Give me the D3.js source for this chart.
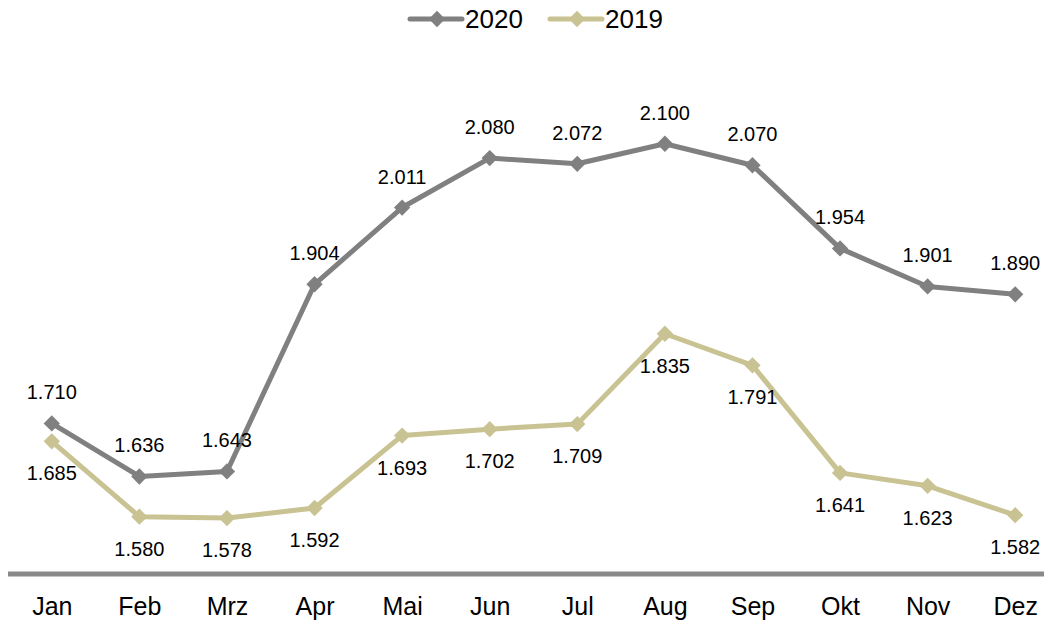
<!DOCTYPE html>
<html lang="de">
  <head>
    <meta charset="UTF-8" />
    <title>2020 vs 2019</title>
    <style>
      body { margin: 0; background: #fff; }
      text { font-family: "Liberation Sans", Arial, sans-serif; fill: #000; }
    </style>
  </head>
  <body>
    <div id="wrapper"></div>
    <script src="https://d3js.org/d3.v7.min.js"></script>
    <script>
      // Daten
      const months = ["Jan", "Feb", "Mrz", "Apr", "Mai", "Jun", "Jul", "Aug", "Sep", "Okt", "Nov", "Dez"];
      const values2020 = [1.710, 1.636, 1.643, 1.904, 2.011, 2.080, 2.072, 2.100, 2.070, 1.954, 1.901, 1.890];
      const values2019 = [1.685, 1.580, 1.578, 1.592, 1.693, 1.702, 1.709, 1.835, 1.791, 1.641, 1.623, 1.582];

      const width = 1044, height = 620;

      const series = [
        { name: "2020", values: values2020, color: "#808080", labelDy: -31 },
        { name: "2019", values: values2019, color: "#c9c393", labelDy: 32 }
      ];

      const svg = d3.select("#wrapper")
        .append("svg")
          .attr("width", width)
          .attr("height", height);

      const x = d3.scalePoint()
        .domain(months)
        .range([8, 1059])
        .padding(0.5);

      const y = d3.scaleLinear()
        .domain([1.5, 2.2])
        .range([574, 72]);

      const fmt = d3.format(".3f");
      const diamond = d3.symbol().type(d3.symbolDiamond2).size(170);

      // x-Achse
      const xAxis = svg.append("g")
        .attr("transform", "translate(0," + y(1.5) + ")")
        .call(d3.axisBottom(x).tickSize(0).tickPadding(23));
      xAxis.select(".domain").remove();
      xAxis.selectAll("text")
        .style("font-size", "25px")
        .attr("dy", "0.71em");
      svg.append("line")
        .attr("x1", 8).attr("x2", width)
        .attr("y1", y(1.5)).attr("y2", y(1.5))
        .attr("stroke", "#898989")
        .attr("stroke-width", 5);

      const line = d3.line()
        .x((d, i) => x(months[i]))
        .y(d => y(d));

      series.forEach(s => {
        svg.append("path")
          .datum(s.values)
          .attr("fill", "none")
          .attr("stroke", s.color)
          .attr("stroke-width", 5)
          .attr("stroke-linejoin", "round")
          .attr("d", line);

        svg.append("g")
          .selectAll("path")
          .data(s.values)
          .enter()
          .append("path")
          .attr("d", diamond)
          .attr("fill", s.color)
          .attr("transform", (d, i) => "translate(" + x(months[i]) + "," + y(d) + ")");

        svg.append("g")
          .selectAll("text")
          .data(s.values)
          .enter()
          .append("text")
          .attr("x", (d, i) => x(months[i]))
          .attr("y", d => y(d) + s.labelDy)
          .attr("dy", "0.35em")
          .attr("text-anchor", "middle")
          .style("font-size", "20px")
          .text(d => fmt(d));
      });

      // Legende
      const legendPos = [{ x: 410 }, { x: 550 }];
      const legend = svg.append("g")
        .selectAll("g")
        .data(series)
        .enter()
        .append("g")
        .attr("transform", (d, i) => "translate(" + legendPos[i].x + ",19)");
      legend.append("line")
        .attr("x1", 0).attr("x2", 52)
        .attr("stroke", d => d.color)
        .attr("stroke-width", 5)
        .attr("stroke-linecap", "round");
      legend.append("path")
        .attr("d", diamond)
        .attr("fill", d => d.color)
        .attr("transform", "translate(27,0)");
      legend.append("text")
        .attr("x", 55)
        .attr("dy", "0.35em")
        .style("font-size", "26px")
        .text(d => d.name);
    </script>
  </body>
</html>
